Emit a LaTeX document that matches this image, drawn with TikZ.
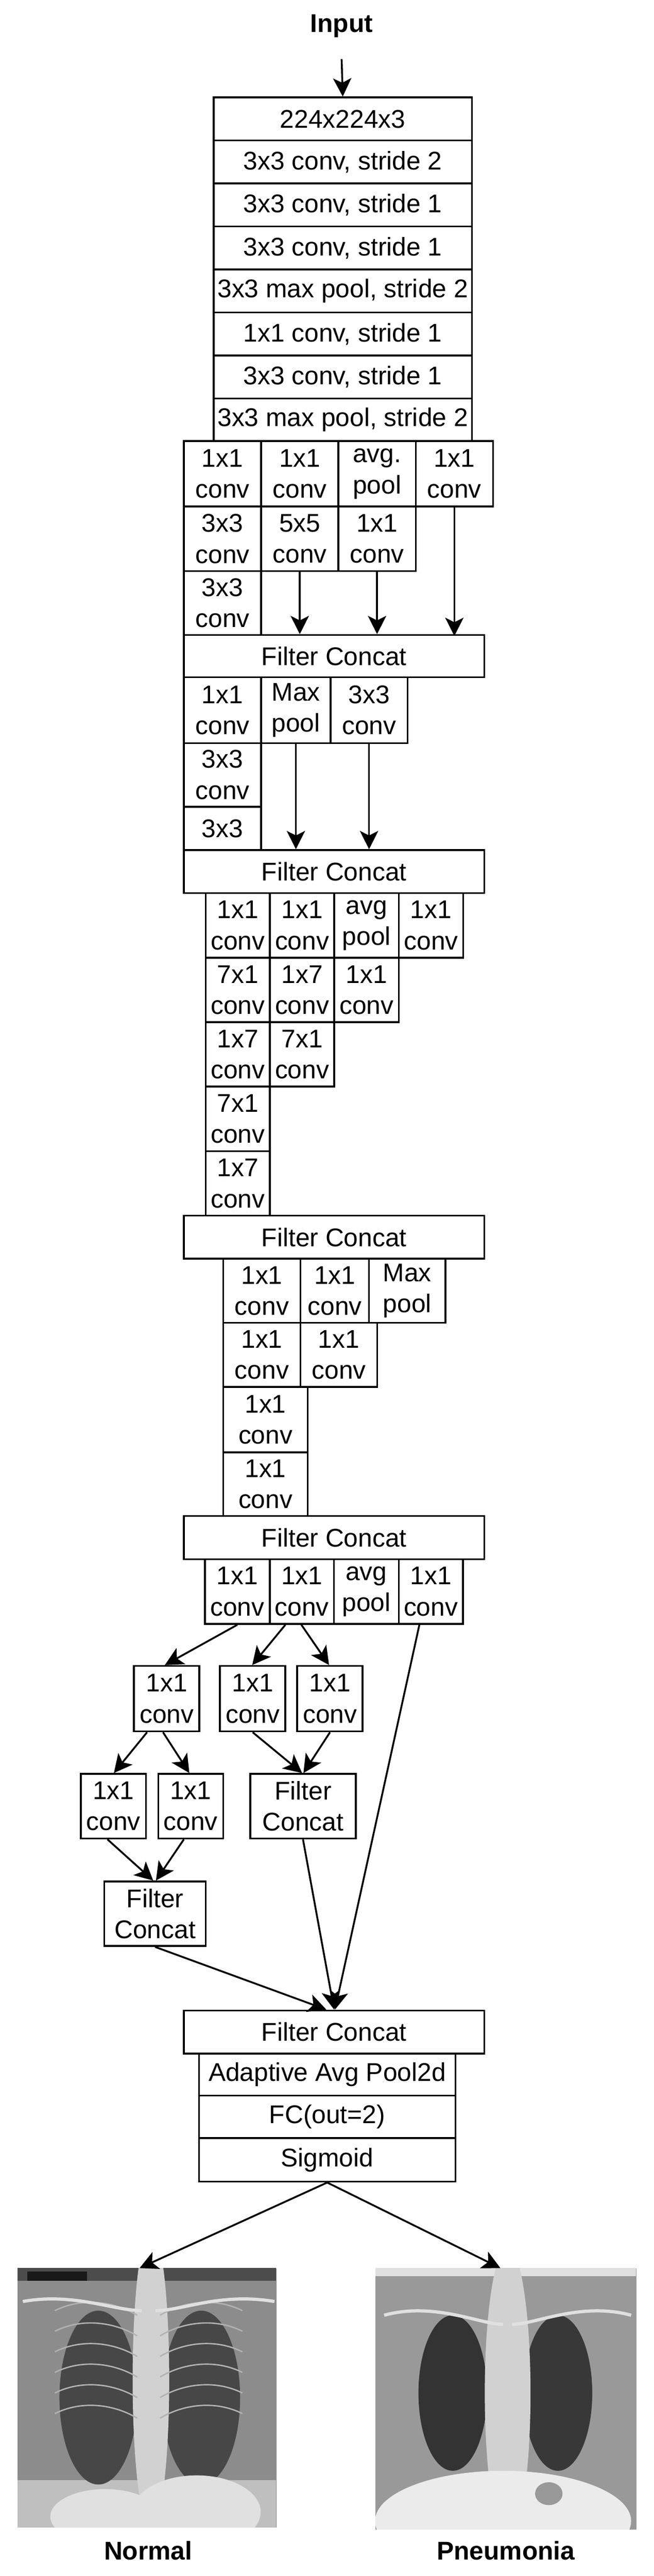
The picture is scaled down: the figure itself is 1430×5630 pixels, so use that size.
\documentclass[tikz,border=0pt]{standalone}
\usepackage{fontspec}
\setmainfont{Liberation Sans}
\usetikzlibrary{arrows.meta,calc}
\begin{document}
\begin{tikzpicture}[x=1pt,y=-1pt,
  box/.style={draw,line width=4pt,inner sep=0pt,align=center,font=\fontsize{56}{68}\selectfont},
  arr/.style={line width=4pt,-{Stealth[length=40pt,width=40pt,inset=10pt]}},
  lbl/.style={font=\fontsize{56}{68}\selectfont\bfseries}]
\newcommand\cell[6]{\node[box,anchor=north west,minimum width={(#4-#2)*1pt},minimum height={(#5-#3)*1pt}] (#1) at (#2,#3) {#6};}
\useasboundingbox (0,0) rectangle (1430,5630);
% input
\node[lbl] (input) at (747,57) {Input};
\coordinate (inS) at (747,129);
% stem
\cell{s1}{465}{211}{1030}{305}{224x224x3}
\cell{s2}{465}{305}{1030}{399}{3x3 conv, stride 2}
\cell{s3}{465}{399}{1030}{493}{3x3 conv, stride 1}
\cell{s4}{465}{493}{1030}{587}{3x3 conv, stride 1}
\cell{s5}{465}{587}{1030}{681}{3x3 max pool, stride 2}
\cell{s6}{465}{681}{1030}{775}{1x1 conv, stride 1}
\cell{s7}{465}{775}{1030}{869}{3x3 conv, stride 1}
\cell{s8}{465}{869}{1030}{962}{3x3 max pool, stride 2}
\draw[arr] (inS) -- (s1.north);
% block A
\cell{a11}{400}{962}{569}{1105}{1x1\\conv}
\cell{a12}{569}{962}{738}{1105}{1x1\\conv}
\cell{a13}{738}{962}{907}{1105}{avg.\\pool}
\cell{a14}{907}{962}{1076}{1105}{1x1\\conv}
\cell{a21}{400}{1105}{569}{1246}{3x3\\conv}
\cell{a22}{569}{1105}{738}{1246}{5x5\\conv}
\cell{a23}{738}{1105}{907}{1246}{1x1\\conv}
\cell{a31}{400}{1246}{569}{1386}{3x3\\conv}
\cell{fa}{400}{1386}{1057}{1478}{Filter Concat}
\draw[arr] (a22.south) -- (a22.south |- fa.north);
\draw[arr] (a23.south) -- (a23.south |- fa.north);
\draw[arr] (a14.south) -- ([yshift=-4pt]a14.south |- fa.north);
% block B
\cell{b11}{400}{1478}{569}{1622}{1x1\\conv}
\cell{b12}{569}{1478}{721}{1622}{Max\\pool}
\cell{b13}{721}{1478}{889}{1622}{3x3\\conv}
\cell{b21}{400}{1622}{569}{1761}{3x3\\conv}
\cell{b31}{400}{1761}{569}{1856}{3x3}
\cell{fb}{400}{1856}{1057}{1950}{Filter Concat}
\draw[arr] (b12.south) -- (b12.south |- fb.north);
\draw[arr] (b13.south) -- (b13.south |- fb.north);
% block C
\cell{c11}{448}{1950}{588}{2091}{1x1\\conv}
\cell{c12}{588}{1950}{729}{2091}{1x1\\conv}
\cell{c13}{729}{1950}{870}{2091}{avg\\pool}
\cell{c14}{870}{1950}{1011}{2091}{1x1\\conv}
\cell{c21}{448}{2091}{588}{2232}{7x1\\conv}
\cell{c22}{588}{2091}{729}{2232}{1x7\\conv}
\cell{c23}{729}{2091}{870}{2232}{1x1\\conv}
\cell{c31}{448}{2232}{588}{2373}{1x7\\conv}
\cell{c32}{588}{2232}{729}{2373}{7x1\\conv}
\cell{c41}{448}{2373}{588}{2514}{7x1\\conv}
\cell{c51}{448}{2514}{588}{2655}{1x7\\conv}
\cell{fc}{400}{2655}{1057}{2749}{Filter Concat}
% block D
\cell{d11}{486}{2749}{655}{2889}{1x1\\conv}
\cell{d12}{655}{2749}{805}{2889}{1x1\\conv}
\cell{d13}{805}{2749}{972}{2889}{Max\\pool}
\cell{d21}{486}{2889}{655}{3029}{1x1\\conv}
\cell{d22}{655}{2889}{823}{3029}{1x1\\conv}
\cell{d31}{486}{3029}{671}{3172}{1x1\\conv}
\cell{d41}{486}{3172}{671}{3311}{1x1\\conv}
\cell{fd}{400}{3311}{1057}{3406}{Filter Concat}
% block E
\cell{e1}{446}{3406}{588}{3547}{1x1\\conv}
\cell{e2}{588}{3406}{728}{3547}{1x1\\conv}
\cell{e3}{728}{3406}{870}{3547}{avg\\pool}
\cell{e4}{870}{3406}{1010}{3547}{1x1\\conv}
\cell{p1}{291}{3639}{434}{3782}{1x1\\conv}
\cell{p2}{479}{3639}{622}{3782}{1x1\\conv}
\cell{p3}{648}{3639}{791}{3782}{1x1\\conv}
\cell{q1}{175}{3875}{317}{4016}{1x1\\conv}
\cell{q2}{344}{3875}{486}{4016}{1x1\\conv}
\cell{fq}{545}{3875}{776}{4016}{Filter\\Concat}
\cell{fr}{226}{4110}{448}{4251}{Filter\\Concat}
\cell{ff}{400}{4392}{1057}{4486}{Filter Concat}
\cell{g1}{433}{4486}{994}{4578}{Adaptive Avg Pool2d}
\cell{g2}{433}{4578}{994}{4671}{FC(out=2)}
\cell{g3}{433}{4671}{994}{4766}{Sigmoid}
\draw[arr] (e1.south) -- ([xshift=-4pt]p1.north);
\draw[arr] ([xshift=-36pt]e2.south) -- ([xshift=-1pt]p2.north);
\draw[arr] ([xshift=-1pt]e2.south) -- ([xshift=-2pt]p3.north);
\draw[arr] ([xshift=-43pt]p1.south) -- ([xshift=1pt]q1.north);
\draw[arr] ([xshift=-8pt]p1.south) -- ([xshift=-3pt]q2.north);
\draw[arr] ([xshift=0pt]p2.south) -- ([xshift=-2pt]fq.north);
\draw[arr] ([xshift=0pt]p3.south) -- ([xshift=1pt]fq.north);
\draw[arr] ([xshift=-13pt]q1.south) -- ([xshift=-4pt]fr.north);
\draw[arr] ([xshift=-15pt]q2.south) -- ([xshift=2pt]fr.north);
\draw[arr] (fr.south) -- ([xshift=-17pt]ff.north);
\draw[arr] ([xshift=0pt]fq.south) -- ([xshift=0pt]ff.north);
\draw[arr] ([xshift=-25pt]e4.south) -- ([xshift=2pt]ff.north);
% x-ray images
\node[inner sep=0pt,minimum width=566pt,minimum height=567pt,anchor=north west,fill=black!45] (imgN) at (38,4957) {};
\node[inner sep=0pt,minimum width=570pt,minimum height=571pt,anchor=north west,fill=black!40] (imgP) at (821,4957) {};
\begin{scope}
\clip (38,4957) rectangle (604,5524);
\fill[black!70] (38,4957) rectangle (604,4985);
\fill[black!90] (60,4965) rectangle (190,4985);
\fill[black!25] (38,5420) rectangle (604,5524);
\fill[black!72] (215,5240) ellipse (85pt and 190pt);
\fill[black!72] (440,5240) ellipse (85pt and 190pt);
\fill[black!18] (330,5200) ellipse (40pt and 330pt);
\fill[black!12] (230,5500) ellipse (120pt and 60pt);
\fill[black!12] (430,5490) ellipse (140pt and 80pt);
\foreach \k in {0,1,2,3,4,5} {
 \draw[black!30,line width=3pt] (120,5050+45*\k) .. controls (180,5020+45*\k) and (250,5030+45*\k) .. (300,5060+45*\k);
 \draw[black!30,line width=3pt] (530,5050+45*\k) .. controls (470,5020+45*\k) and (400,5030+45*\k) .. (350,5060+45*\k);
}
\draw[black!12,line width=7pt] (50,5030) .. controls (160,5010) and (250,5050) .. (310,5050);
\draw[black!12,line width=7pt] (600,5030) .. controls (480,5010) and (400,5050) .. (340,5050);
\end{scope}
\begin{scope}
\clip (821,4957) rectangle (1391,5528);
\fill[black!12] (821,4957) rectangle (1391,4975);
\fill[black!80] (990,5230) ellipse (75pt and 170pt);
\fill[black!78] (1220,5230) ellipse (75pt and 170pt);
\fill[black!18] (1110,5230) ellipse (50pt and 320pt);
\fill[black!8] (1100,5510) ellipse (280pt and 110pt);
\fill[black!40] (1200,5450) ellipse (30pt and 25pt);
\draw[black!12,line width=7pt] (840,5060) .. controls (950,5030) and (1050,5080) .. (1100,5080);
\draw[black!12,line width=7pt] (1380,5060) .. controls (1270,5030) and (1170,5080) .. (1120,5080);
\end{scope}
\draw[arr] (g3.south) -- ([xshift=-16pt]imgN.north);
\draw[arr] (g3.south) -- ([xshift=-12pt]imgP.north);
\node[lbl] (lN) at (324,5575) {Normal};
\node[lbl] (lP) at (1106,5575) {Pneumonia};
\end{tikzpicture}
\end{document}
